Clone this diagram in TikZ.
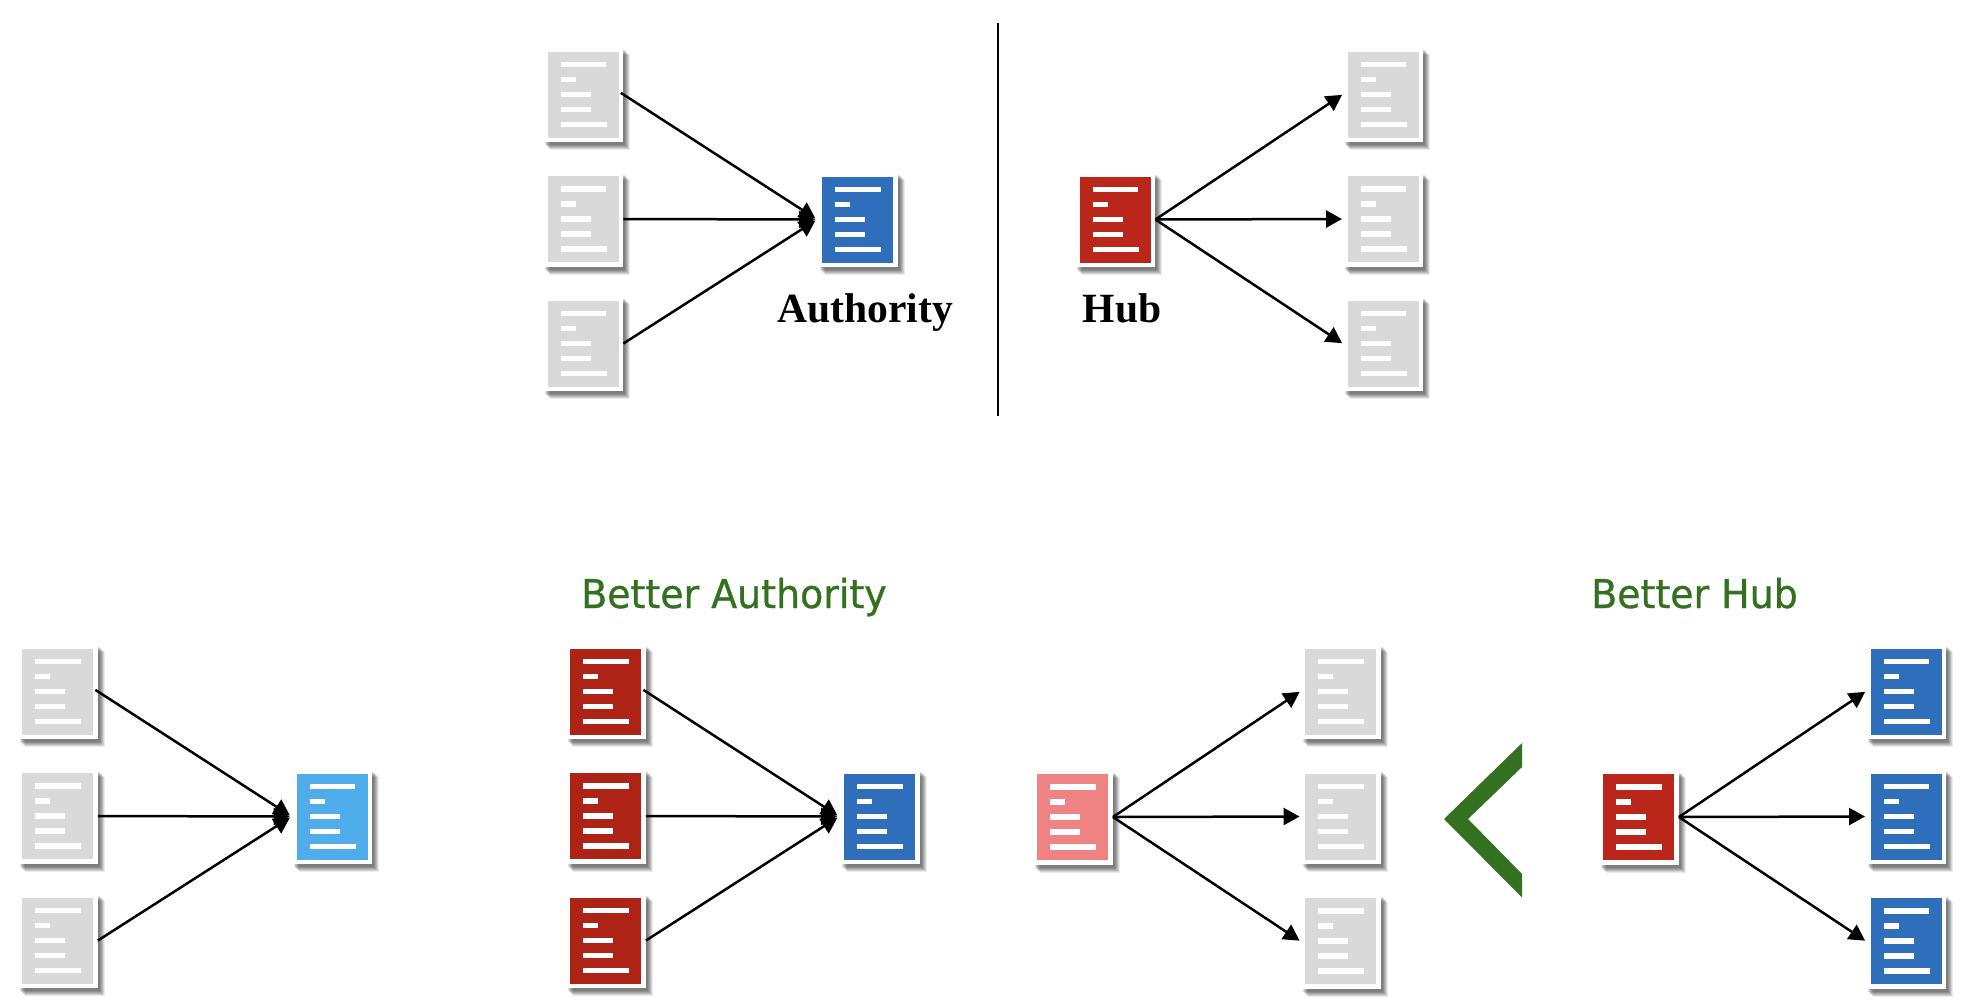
\documentclass[tikz,border=0pt]{standalone}
\usepackage{fontspec}
\setmainfont{Liberation Serif}
\newfontfamily\betterfont[FakeStretch=0.955,FakeBold=0.8]{DejaVu Sans}
\usetikzlibrary{arrows.meta,shadows}
\definecolor{pagegray}{HTML}{D9D9D9}
\definecolor{pageblue}{HTML}{2F6EBA}
\definecolor{pagesky}{HTML}{50ADEB}
\definecolor{pagered}{HTML}{BA2619}
\definecolor{pagedark}{HTML}{AD2316}
\definecolor{pagepink}{HTML}{EF8283}
\definecolor{bettergreen}{HTML}{33701F}
\tikzset{
  docpage/.style={rectangle,inner sep=0pt,minimum width=40pt,minimum height=47.5pt,fill=white,
    general shadow={shadow xshift=3.5pt,shadow yshift=-4pt,fill=black,opacity=.08},
    general shadow={shadow xshift=3pt,shadow yshift=-3.5pt,fill=black,opacity=.10},
    general shadow={shadow xshift=2.5pt,shadow yshift=-3pt,fill=black,opacity=.12},
    general shadow={shadow xshift=2pt,shadow yshift=-2.5pt,fill=black,opacity=.12},
    general shadow={shadow xshift=1.5pt,shadow yshift=-2pt,fill=black,opacity=.12},
    general shadow={shadow xshift=1pt,shadow yshift=-1.5pt,fill=black,opacity=.12},
    path picture={
      \begin{scope}[shift={(path picture bounding box.center)}]
      \fill[#1] (-35.5,-43) rectangle (35.5,43);
      \fill[white] (-22.5,-33) rectangle ++(45.5,5.5);
      \fill[white] (-22.5,-18) rectangle ++(15,5.5);
      \fill[white] (-22.5,-3) rectangle ++(30,5.5);
      \fill[white] (-22.5,12) rectangle ++(30,5.5);
      \fill[white] (-22.5,27) rectangle ++(46,5.5);
      \end{scope}
    }},
  fanin/.style={draw,line width=1.25pt,-{Triangle[length=8pt,width=8.5pt]},shorten >=1pt},
  fanout/.style={draw,line width=1.25pt,-{Triangle[length=8pt,width=8.5pt]},shorten >=.3pt},
  headlabel/.style={inner sep=0pt,anchor=base,font=\fontsize{20.8pt}{24pt}\selectfont\bfseries},
  betterlabel/.style={inner sep=0pt,anchor=base,text=bettergreen,font=\fontsize{19.85pt}{24pt}\betterfont}
}
\begin{document}
\begin{tikzpicture}[x=0.5pt,y=-0.5pt]
\useasboundingbox (0,0) rectangle (1984,1002);
% top row
\node[docpage=pagegray] (authSrcA) at (583,94.5) {};
\node[docpage=pagegray] (authSrcB) at (583,219) {};
\node[docpage=pagegray] (authSrcC) at (583,343.5) {};
\node[docpage=pageblue] (auth) at (857.5,219.5) {};
\node[docpage=pagered] (hub) at (1115,219.5) {};
\node[docpage=pagegray] (hubDstA) at (1383,94.5) {};
\node[docpage=pagegray] (hubDstB) at (1383,219) {};
\node[docpage=pagegray] (hubDstC) at (1383,343.5) {};
\draw[fanin,shorten <=-1.5pt] (authSrcA.east) -- (auth.west);
\draw[fanin] (authSrcB.east) -- (auth.west);
\draw[fanin] (authSrcC.east) -- (auth.west);
\draw[fanout] (hub.east) -- (hubDstA.west);
\draw[fanout] (hub.east) -- (hubDstB.west);
\draw[fanout] (hub.east) -- (hubDstC.west);
\node[headlabel] (authLabel) at (865,322) {Authority};
\node[headlabel] (hubLabel) at (1122,322) {Hub};
\coordinate (divTop) at (998,23);
\coordinate (divBot) at (998,416);
\draw[line width=1.1pt] (divTop) -- (divBot);
% bottom row, authorities
\node[docpage=pagegray] (weakSrcA) at (57.5,691.5) {};
\node[docpage=pagegray] (weakSrcB) at (57.5,816) {};
\node[docpage=pagegray] (weakSrcC) at (57.5,940.5) {};
\node[docpage=pagesky] (weakAuth) at (332,816.5) {};
\draw[fanin,shorten <=-1.5pt] (weakSrcA.east) -- (weakAuth.west);
\draw[fanin] (weakSrcB.east) -- (weakAuth.west);
\draw[fanin] (weakSrcC.east) -- (weakAuth.west);
\node[docpage=pagedark] (goodSrcA) at (605.5,691.5) {};
\node[docpage=pagedark] (goodSrcB) at (605.5,816) {};
\node[docpage=pagedark] (goodSrcC) at (605.5,940.5) {};
\node[docpage=pageblue] (goodAuth) at (879.5,816.5) {};
\draw[fanin,shorten <=-1.5pt] (goodSrcA.east) -- (goodAuth.west);
\draw[fanin] (goodSrcB.east) -- (goodAuth.west);
\draw[fanin] (goodSrcC.east) -- (goodAuth.west);
\node[betterlabel] (betterAuth) at (734,608) {Better Authority};
% bottom row, hubs
\node[docpage=pagepink] (weakHub) at (1072.5,817) {};
\node[docpage=pagegray] (weakDstA) at (1340.5,691.5) {};
\node[docpage=pagegray] (weakDstB) at (1340.5,816.5) {};
\node[docpage=pagegray] (weakDstC) at (1340.5,941) {};
\draw[fanout] (weakHub.east) -- (weakDstA.west);
\draw[fanout] (weakHub.east) -- (weakDstB.west);
\draw[fanout] (weakHub.east) -- (weakDstC.west);
\fill[bettergreen] (1444,819) -- (1522,743) -- (1522,767) -- (1468,819) -- (1522,874) -- (1522,897.5) -- cycle;
\node[docpage=pagered] (goodHub) at (1638.5,817) {};
\node[docpage=pageblue] (goodDstA) at (1906,691.5) {};
\node[docpage=pageblue] (goodDstB) at (1906,816.5) {};
\node[docpage=pageblue] (goodDstC) at (1906,941) {};
\draw[fanout] (goodHub.east) -- (goodDstA.west);
\draw[fanout] (goodHub.east) -- (goodDstB.west);
\draw[fanout] (goodHub.east) -- (goodDstC.west);
\node[betterlabel] (betterHub) at (1694.5,608) {Better Hub};
\end{tikzpicture}
\end{document}
